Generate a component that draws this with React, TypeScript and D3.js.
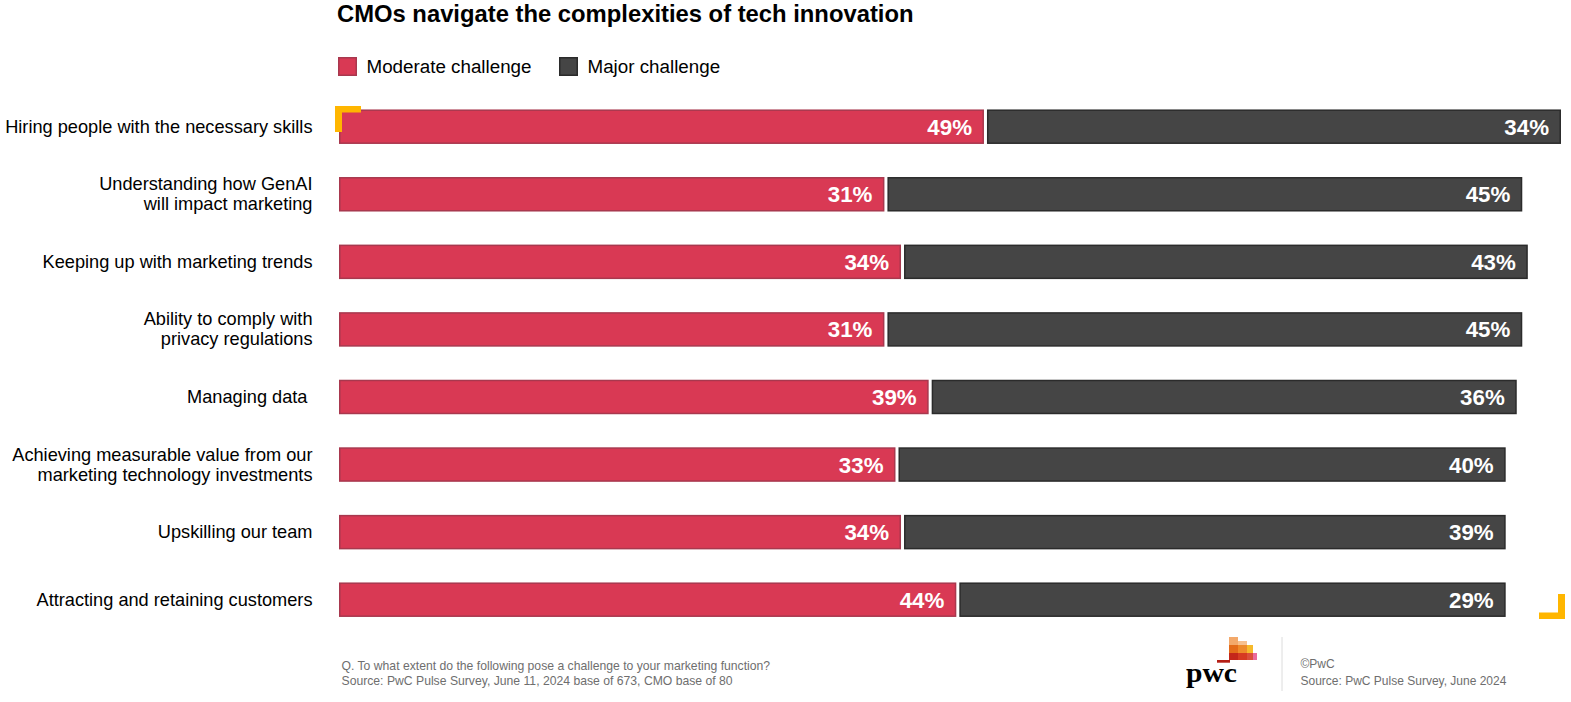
import React from "react";
import * as d3 from "d3";

const categories = [
  "Hiring people with the necessary skills",
  "Understanding how GenAI\nwill impact marketing",
  "Keeping up with marketing trends",
  "Ability to comply with\nprivacy regulations",
  "Managing data ",
  "Achieving measurable value from our\nmarketing technology investments",
  "Upskilling our team",
  "Attracting and retaining customers",
];
const moderate = [49, 31, 34, 31, 39, 33, 34, 44];
const major = [34, 45, 43, 45, 36, 40, 39, 29];
const seriesNames = ["Moderate challenge", "Major challenge"];

const W = 1571;
const H = 702;
const FONT = "'Liberation Sans', Arial, Helvetica, sans-serif";
const RED = "#D93954";
const RED_STROKE = "#A8384E";
const DARK = "#454545";
const DARK_STROKE = "#2B2B2B";
const YELLOW = "#FFB600";

export default function App() {
  const left = 339;
  const barH = 34.5;
  const gap = 3;
  const modBase = 374;
  const majBase = 386;
  const x = d3.scaleLinear().domain([0, 100]).range([0, 553]);
  const y = d3.scalePoint<string>().domain(categories).range([126.7, 599.7]);

  return (
    <svg
      width={W}
      height={H}
      style={{ position: "absolute", left: 0, top: 0, background: "#fff" }}
      fontFamily={FONT}
    >
      <text x={337} y={22} fontSize={23.8} fontWeight={700} fill="#000">
        CMOs navigate the complexities of tech innovation
      </text>

      {/* legend */}
      <rect x={338.75} y={57.75} width={17.5} height={17.5} fill={RED} stroke={RED_STROKE} strokeWidth={1.5} />
      <text x={366.5} y={73} fontSize={18.8} fill="#000">{seriesNames[0]}</text>
      <rect x={559.75} y={57.75} width={17.5} height={17.5} fill={DARK} stroke={DARK_STROKE} strokeWidth={1.5} />
      <text x={587.5} y={73} fontSize={18.8} fill="#000">{seriesNames[1]}</text>

      {categories.map((c, i) => {
        const cy = y(c) as number;
        const wm = modBase + x(moderate[i]);
        const wM = majBase + x(major[i]);
        const x2 = left + wm + gap;
        const lines = c.split("\n");
        return (
          <g key={c}>
            <rect x={left + 0.75} y={cy - barH / 2 + 0.75} width={wm - 1.5} height={barH - 1.5} fill={RED} stroke={RED_STROKE} strokeWidth={1.5} />
            <rect x={x2 + 0.75} y={cy - barH / 2 + 0.75} width={wM - 1.5} height={barH - 1.5} fill={DARK} stroke={DARK_STROKE} strokeWidth={1.5} />
            <text x={left + wm - 12} y={cy + 8} textAnchor="end" fontSize={22.3} fontWeight={700} fill="#fff">
              {moderate[i]}%
            </text>
            <text x={x2 + wM - 12} y={cy + 8} textAnchor="end" fontSize={22.3} fontWeight={700} fill="#fff">
              {major[i]}%
            </text>
            {lines.map((ln, j) => (
              <text
                key={j}
                x={312.5}
                y={cy + 6 + (j - (lines.length - 1) / 2) * 20}
                textAnchor="end"
                fontSize={18.2}
                fill="#000"
                style={{ whiteSpace: "pre" }}
              >
                {ln}
              </text>
            ))}
          </g>
        );
      })}

      {/* yellow corners */}
      <path d="M335,106 H361 V112.5 H342 V132 H335 Z" fill={YELLOW} />
      <path d="M1565,619 H1539 V612.5 H1558 V594 H1565 Z" fill={YELLOW} />

      {/* footer left */}
      <text x={341.5} y={670} fontSize={12.2} fill="#6e6e6e">
        Q. To what extent do the following pose a challenge to your marketing function?
      </text>
      <text x={341.5} y={685} fontSize={12.2} fill="#6e6e6e">
        Source: PwC Pulse Survey, June 11, 2024 base of 673, CMO base of 80
      </text>

      {/* pwc logo */}
      <g>
        <rect x={1229} y={637} width={9} height={8} fill="#F3A96B" />
        <rect x={1238} y={641} width={9} height={4} fill="#F7C08E" />
        <rect x={1229} y={645} width={9} height={8} fill="#E36B1A" />
        <rect x={1238} y={645} width={9} height={8} fill="#EE8A2A" />
        <rect x={1247} y={645} width={6} height={8} fill="#F6BA2C" />
        <rect x={1229} y={653} width={9} height={7} fill="#C4261A" />
        <rect x={1238} y={653} width={9} height={7} fill="#D63A22" />
        <rect x={1247} y={653} width={6} height={7} fill="#DB4E3A" />
        <rect x={1253} y={653} width={4} height={7} fill="#EA6A9C" />
        <rect x={1217} y={660} width={13} height={2.7} fill="#B51F16" />
        <text x={1186} y={681.5} fontSize={27} fontWeight={700} fontFamily="'Liberation Serif', 'DejaVu Serif', serif" fill="#000" textLength={51} lengthAdjust="spacingAndGlyphs">
          pwc
        </text>
      </g>
      <line x1={1282} x2={1282} y1={637} y2={691} stroke="#dcdcdc" strokeWidth={1} />
      <text x={1300.5} y={668.3} fontSize={12} fill="#6e6e6e">©PwC</text>
      <text x={1300.5} y={685} fontSize={12} fill="#6e6e6e">Source: PwC Pulse Survey, June 2024</text>
    </svg>
  );
}
